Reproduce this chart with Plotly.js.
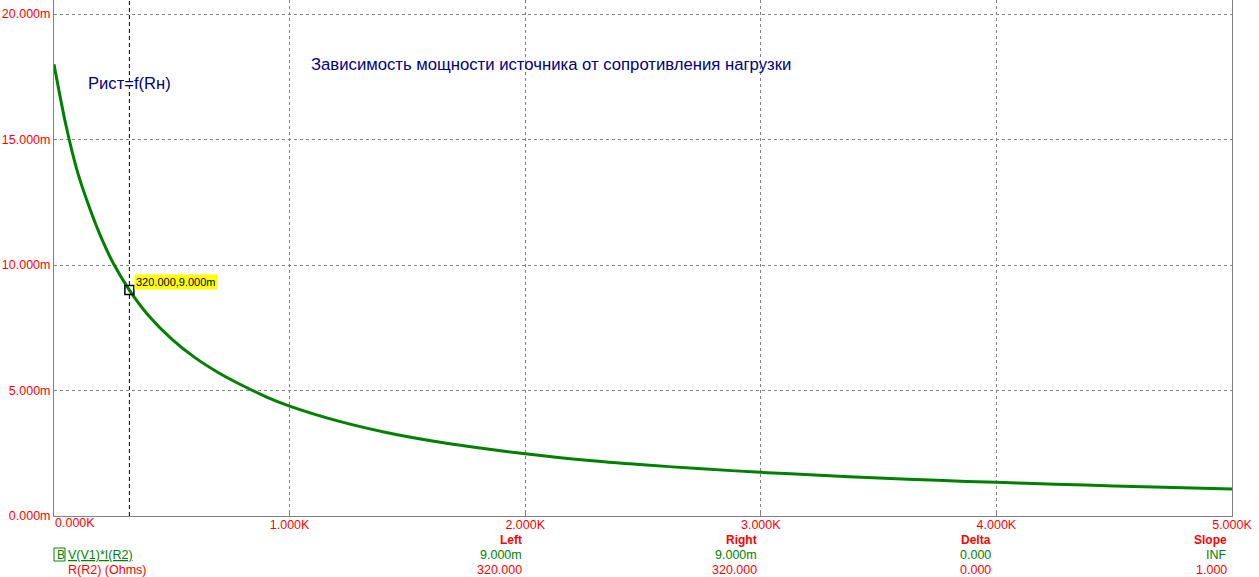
<!DOCTYPE html>
<html>
<head>
<meta charset="utf-8">
<script src="https://cdn.plot.ly/plotly-3.0.1.min.js"></script>
<style>
html,body{margin:0;padding:0;background:#fff;}
#chart{width:1259px;height:577px;}
</style>
</head>
<body>
<div id="chart"></div>
<script>
// Load resistance R(R2), Ohms
var resistance = [0, 50, 100, 150, 200, 250, 320, 400, 500, 600, 700, 800, 900, 1000, 1200, 1400, 1600, 1800, 2000, 2250, 2500, 2750, 3000, 3250, 3500, 3750, 4000, 4250, 4500, 4750, 5000];
// Source power V(V1)*I(R2), milli-units
var power = [18.0, 15.6, 13.7, 12.3, 11.1, 10.1, 9.0, 8.0, 7.05, 6.3, 5.7, 5.2, 4.75, 4.38, 3.8, 3.35, 3.0, 2.72, 2.48, 2.23, 2.04, 1.88, 1.74, 1.62, 1.51, 1.42, 1.34, 1.27, 1.20, 1.14, 1.08];

var xTickVals = [0, 1000, 2000, 3000, 4000, 5000];
var xTickText = ["", "1.000K", "2.000K", "3.000K", "4.000K", "5.000K"];
var xFirstLabel = "0.000K";
var yTickVals = [0, 5, 10, 15, 20];
var yTickText = ["0.000m", "5.000m", "10.000m", "15.000m", "20.000m"];

var cursorR = [320];
var cursorP = [9.0];
var cursorLabel = "320.000,9.000m";

var titleText = "Зависимость мощности источника от сопротивления нагрузки";
var subTitleText = "Рист=f(Rн)";
var traceName = "V(V1)*I(R2)";
var xName = "R(R2) (Ohms)";
var tableHeaders = ["Left", "Right", "Delta", "Slope"];
var tableRowY = ["9.000m", "9.000m", "0.000", "INF"];
var tableRowX = ["320.000", "320.000", "0.000", "1.000"];

var W = 1259, H = 577, ML = 54, MR = 27, MT = 0, MB = 61;
var PW = W - ML - MR, PH = H - MT - MB;
function px(x){ return (x - ML) / PW; }
function py(y){ return (H - MB - y) / PH; }

var FONT = "Liberation Sans, Arial, sans-serif";
var RED = "#FF0000", GREEN = "#008000", NAVY = "#000080", GRAY = "#808080";

var traces = [
  {
    x: resistance, y: power, type: "scatter", mode: "lines",
    line: {color: GREEN, width: 3, shape: "spline", smoothing: 0.8},
    hoverinfo: "skip", showlegend: false
  },
  {
    x: cursorR, y: cursorP, type: "scatter", mode: "markers",
    marker: {symbol: "square-open", size: 9, color: "#000000", line: {width: 1.5, color: "#000000"}},
    hoverinfo: "skip", showlegend: false
  }
];

var annotations = [
  {xref: "paper", yref: "paper", x: px(309), y: py(64), xanchor: "left", yanchor: "middle",
   text: titleText, showarrow: false, font: {family: FONT, size: 16.7, color: NAVY}},
  {xref: "paper", yref: "paper", x: px(86), y: py(84), xanchor: "left", yanchor: "middle",
   text: subTitleText, showarrow: false, font: {family: FONT, size: 16.6, color: NAVY}},
  {xref: "x", yref: "y", x: cursorR[0], y: cursorP[0], xanchor: "left", yanchor: "middle",
   xshift: 5, yshift: 8, text: cursorLabel, showarrow: false, bgcolor: "#FFFF00", borderpad: 1,
   font: {family: FONT, size: 11, color: "#000000"}},
  {xref: "paper", yref: "paper", x: px(53), y: py(523), xanchor: "left", yanchor: "middle",
   text: xFirstLabel, showarrow: false, font: {family: FONT, size: 12.5, color: RED}},
  {xref: "paper", yref: "paper", x: px(55), y: py(555), xanchor: "left", yanchor: "middle",
   text: "B", showarrow: false, font: {family: FONT, size: 12, color: GREEN}},
  {xref: "paper", yref: "paper", x: px(66), y: py(555), xanchor: "left", yanchor: "middle",
   text: "<u>" + traceName + "</u>", showarrow: false, font: {family: FONT, size: 12.5, color: GREEN}},
  {xref: "paper", yref: "paper", x: px(66), y: py(570), xanchor: "left", yanchor: "middle",
   text: xName, showarrow: false, font: {family: FONT, size: 12.5, color: RED}}
];

var colRight = [524, 759, 993, 1229];
for (var i = 0; i < tableHeaders.length; i++) {
  annotations.push({xref: "paper", yref: "paper", x: px(colRight[i]), y: py(540), xanchor: "right", yanchor: "middle",
    text: "<b>" + tableHeaders[i] + "</b>", showarrow: false, font: {family: FONT, size: 12, color: RED}});
  annotations.push({xref: "paper", yref: "paper", x: px(colRight[i]), y: py(555), xanchor: "right", yanchor: "middle",
    text: tableRowY[i], showarrow: false, font: {family: FONT, size: 12.5, color: GREEN}});
  annotations.push({xref: "paper", yref: "paper", x: px(colRight[i]), y: py(570), xanchor: "right", yanchor: "middle",
    text: tableRowX[i], showarrow: false, font: {family: FONT, size: 12.5, color: RED}});
}

var shapes = [
  {type: "line", xref: "x", yref: "paper", x0: cursorR[0], x1: cursorR[0], y0: 0, y1: 1,
   line: {color: "#000000", width: 1, dash: "4px,3px"}, layer: "below"},
  {type: "rect", xref: "paper", yref: "paper", x0: px(54), x1: px(65), y0: py(561), y1: py(548),
   line: {color: GREEN, width: 1}}
];

var layout = {
  width: W, height: H,
  margin: {l: ML, r: MR, t: MT, b: MB, pad: 0},
  paper_bgcolor: "#ffffff", plot_bgcolor: "#ffffff",
  font: {family: FONT, size: 12, color: RED},
  showlegend: false,
  xaxis: {
    range: [0, 5000], tickmode: "array", tickvals: xTickVals, ticktext: xTickText,
    showgrid: true, gridcolor: GRAY, gridwidth: 1, griddash: "3px,3px",
    zeroline: false, showline: true, linecolor: GRAY, linewidth: 1, mirror: false,
    ticks: "inside", ticklen: 3, tickcolor: GRAY, ticklabelstandoff: -3,
    tickfont: {family: FONT, size: 12.5, color: RED}, fixedrange: true
  },
  yaxis: {
    range: [0, 20.56], tickmode: "array", tickvals: yTickVals, ticktext: yTickText,
    showgrid: true, gridcolor: GRAY, gridwidth: 1, griddash: "3px,3px",
    zeroline: false, showline: true, linecolor: GRAY, linewidth: 1, mirror: true,
    ticks: "", ticklabelstandoff: 0,
    tickfont: {family: FONT, size: 12.5, color: RED}, fixedrange: true
  },
  annotations: annotations,
  shapes: shapes
};

Plotly.newPlot("chart", traces, layout, {displayModeBar: false, staticPlot: true});
</script>
</body>
</html>
